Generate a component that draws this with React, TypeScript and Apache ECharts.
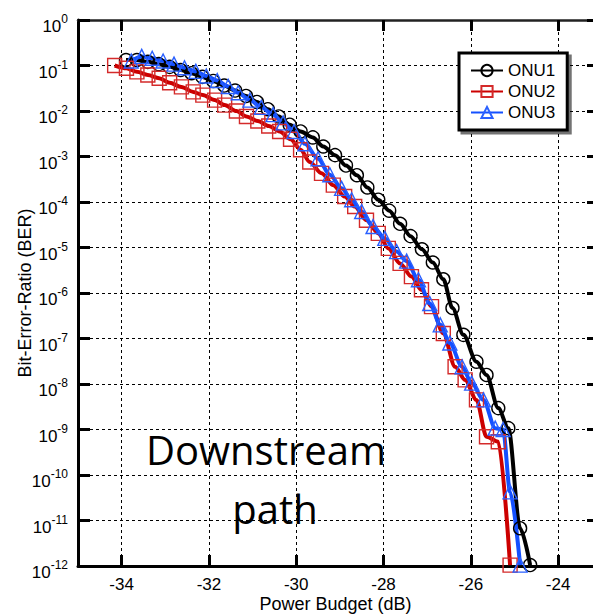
import React, { useEffect, useRef } from 'react';
import * as echarts from 'echarts';

// X tick values (dB)
const xTicks = [-34, -32, -30, -28, -26, -24];
// Y tick values (BER decades)
const yTicks = [1, 1e-1, 1e-2, 1e-3, 1e-4, 1e-5, 1e-6, 1e-7, 1e-8, 1e-9, 1e-10, 1e-11, 1e-12];

// ONU1 (black circles): power budget (dB) and log10(BER)
const onu1X = [-33.9, -33.65, -33.4, -33.15, -32.9, -32.65, -32.4, -32.15, -31.9, -31.65, -31.4, -31.15, -30.9, -30.65, -30.4, -30.15, -29.9, -29.62, -29.38, -29.11, -28.86, -28.61, -28.37, -28.12, -27.87, -27.62, -27.38, -27.12, -26.87, -26.63, -26.42, -26.17, -25.87, -25.64, -25.37, -25.14, -24.87, -24.64];
const onu1LogBer = [-0.88, -0.88, -0.92, -0.97, -1.03, -1.10, -1.17, -1.25, -1.34, -1.44, -1.55, -1.67, -1.80, -1.96, -2.12, -2.30, -2.45, -2.58, -2.78, -2.97, -3.20, -3.41, -3.68, -3.95, -4.19, -4.48, -4.75, -5.04, -5.33, -5.70, -6.33, -6.92, -7.51, -7.80, -8.53, -8.97, -11.17, -11.98];

// ONU2 (red squares)
const onu2X = [-34.16, -33.89, -33.65, -33.4, -33.14, -32.9, -32.63, -32.36, -32.14, -31.87, -31.64, -31.37, -31.14, -30.88, -30.63, -30.38, -30.13, -29.9, -29.69, -29.42, -29.15, -28.89, -28.66, -28.39, -28.12, -27.89, -27.62, -27.36, -27.13, -26.9, -26.63, -26.36, -26.13, -25.87, -25.64, -25.37, -25.1];
const onu2LogBer = [-1.0, -1.06, -1.14, -1.21, -1.28, -1.38, -1.47, -1.58, -1.65, -1.76, -1.87, -2.0, -2.12, -2.22, -2.33, -2.45, -2.62, -2.85, -3.12, -3.37, -3.63, -3.88, -4.1, -4.4, -4.69, -5.02, -5.35, -5.64, -5.93, -6.3, -6.89, -7.62, -7.91, -8.35, -9.16, -9.27, -11.98];

// ONU3 (blue triangles)
const onu3X = [-33.78, -33.54, -33.3, -33.05, -32.8, -32.56, -32.3, -32.06, -31.81, -31.56, -31.33, -31.06, -30.8, -30.53, -30.3, -30.05, -29.8, -29.5, -29.23, -28.96, -28.73, -28.5, -28.24, -27.97, -27.7, -27.47, -27.2, -26.94, -26.7, -26.48, -26.2, -25.98, -25.71, -25.44, -25.26, -25.1, -24.87];
const onu3LogBer = [-0.9, -0.8, -0.84, -0.9, -0.97, -1.05, -1.13, -1.23, -1.33, -1.46, -1.6, -1.76, -1.92, -2.08, -2.26, -2.45, -2.72, -3.05, -3.4, -3.7, -3.95, -4.21, -4.54, -4.8, -5.09, -5.3, -5.71, -6.23, -6.7, -7.1, -7.62, -7.98, -8.35, -8.97, -9.0, -10.37, -11.98];

const seriesNames = ['ONU1', 'ONU2', 'ONU3'];

const FONT = '"Liberation Sans", Arial, sans-serif';

function toPairs(xs: number[], logs: number[]) {
  return xs.map((x, i) => [x, Math.pow(10, logs[i])]);
}

export default function App() {
  const ref = useRef<HTMLDivElement>(null);
  useEffect(() => {
    const chart = echarts.init(ref.current as HTMLDivElement, null, { renderer: 'svg' });
    const dashed = { type: [3, 3], color: '#000', width: 1 };
    const yLabel = (v: number) => {
      const e = Math.round(Math.log10(v));
      return `{b|10}{s|${e}}`;
    };
    chart.setOption({
      animation: false,
      backgroundColor: '#fff',
      textStyle: { fontFamily: FONT },
      grid: { left: 78, right: 0, top: 20, bottom: 50, containLabel: false, outerBoundsMode: 'none' },
      xAxis: [
        {
          type: 'value', min: -35, max: -23.2, position: 'bottom',
          name: 'Power Budget (dB)', nameLocation: 'middle', nameGap: 29, nameMoveOverlap: false,
          nameTextStyle: { fontSize: 18, color: '#000', fontFamily: FONT, lineHeight: 18 },
          axisLine: { show: true, onZero: false, lineStyle: { color: '#000', width: 3 } },
          axisTick: { show: true, inside: true, length: 11, customValues: xTicks, lineStyle: { color: '#000', width: 3 } },
          axisLabel: { customValues: xTicks, fontSize: 17, lineHeight: 17, color: '#000', margin: 10, fontFamily: FONT },
          splitLine: { show: true, lineStyle: dashed },
        },
        {
          type: 'value', min: -35, max: -23.2, position: 'top',
          axisLine: { show: true, onZero: false, lineStyle: { color: '#222', width: 2.5 } },
          axisTick: { show: true, inside: true, length: 11, customValues: xTicks, lineStyle: { color: '#000', width: 3 } },
          axisLabel: { show: false },
          splitLine: { show: false },
        },
      ],
      yAxis: [
        {
          type: 'log', logBase: 10, min: 1e-12, max: 1, position: 'left',
          name: 'Bit-Error-Ratio (BER)', nameLocation: 'middle', nameGap: 44, nameMoveOverlap: false,
          nameTextStyle: { fontSize: 18, color: '#000', fontFamily: FONT },
          axisLine: { show: true, onZero: false, lineStyle: { color: '#000', width: 3 } },
          axisTick: { show: true, inside: true, length: 12, customValues: yTicks, lineStyle: { color: '#000', width: 3 } },
          axisLabel: {
            customValues: yTicks,
            formatter: yLabel, margin: 10, padding: [8, 0, 0, 0],
            rich: {
              b: { fontSize: 17, color: '#000', fontFamily: FONT, verticalAlign: 'bottom', lineHeight: 22 },
              s: { fontSize: 12, color: '#000', fontFamily: FONT, verticalAlign: 'top', lineHeight: 12 },
            },
          },
          splitLine: { show: true, lineStyle: dashed },
          minorTick: { show: false },
        },
        {
          type: 'log', logBase: 10, min: 1e-12, max: 1, position: 'right',
          axisLine: { show: false },
          axisTick: { show: true, inside: true, length: 6, customValues: yTicks, lineStyle: { color: '#000', width: 3 } },
          axisLabel: { show: false },
          splitLine: { show: false },
        },
      ],
      legend: {
        data: seriesNames, orient: 'vertical', left: 459, top: 53,
        itemWidth: 32, itemHeight: 14, itemGap: 4,
        padding: [9, 12, 9, 11],
        borderColor: '#000', borderWidth: 3, borderRadius: 0,
        backgroundColor: '#fff',
        shadowColor: 'rgba(0,0,0,0.55)', shadowOffsetX: 3, shadowOffsetY: 3, shadowBlur: 1,
        textStyle: { fontSize: 17, color: '#000', fontFamily: FONT },
        selectedMode: false,
      },
      graphic: [
        { type: 'text', x: 266, y: 449, z: 100, style: { text: 'Downstream', font: '40px "Open Sans"', align: 'center', verticalAlign: 'middle', fill: '#000' } },
        { type: 'text', x: 275, y: 508, z: 100, style: { text: 'path', font: '40px "Open Sans"', align: 'center', verticalAlign: 'middle', fill: '#000' } },
      ],
      series: [
        {
          name: 'ONU1', type: 'line', data: toPairs(onu1X, onu1LogBer),
          symbol: 'circle', symbolSize: 13, smooth: 0.3, smoothMonotone: 'x', clip: false,
          lineStyle: { color: '#000', width: 4 },
          itemStyle: { color: 'rgba(255,255,255,0)', borderColor: '#000', borderWidth: 1.4 },
          emphasis: { disabled: true },
        },
        {
          name: 'ONU2', type: 'line', data: toPairs(onu2X, onu2LogBer),
          symbol: 'rect', symbolSize: 14, smooth: 0.3, smoothMonotone: 'x', clip: false,
          lineStyle: { color: '#cc0000', width: 4 },
          itemStyle: { color: 'rgba(255,255,255,0)', borderColor: '#d42a2a', borderWidth: 1.4 },
          emphasis: { disabled: true },
        },
        {
          name: 'ONU3', type: 'line', data: toPairs(onu3X, onu3LogBer),
          symbol: 'triangle', symbolSize: 14, smooth: 0.3, smoothMonotone: 'x', clip: false,
          lineStyle: { color: '#1450ff', width: 4 },
          itemStyle: { color: 'rgba(255,255,255,0)', borderColor: '#2a60ff', borderWidth: 1.4 },
          emphasis: { disabled: true },
        },
      ],
    });
    return () => chart.dispose();
  }, []);
  return <div ref={ref} style={{ position: 'fixed', left: 0, top: 0, width: 593, height: 616 }} />;
}
